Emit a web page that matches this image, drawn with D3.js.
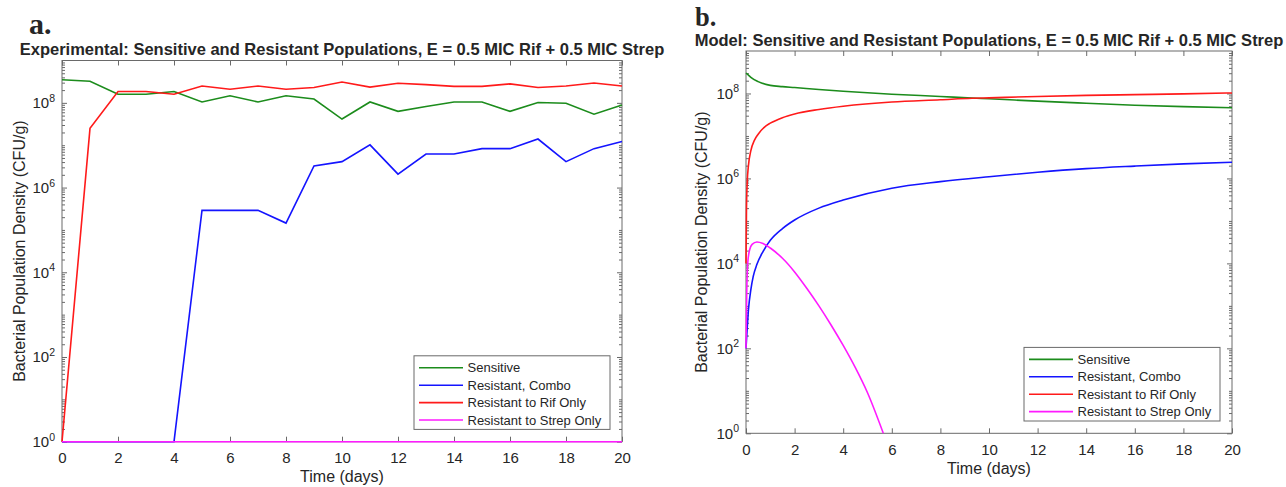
<!DOCTYPE html>
<html lang="en">
<head>
    <meta charset="UTF-8">
    <title>Sensitive and Resistant Populations</title>
    <script src="https://d3js.org/d3.v7.min.js"></script>
    <style>
        body { margin: 0; background: #fff; }
        text { font-family: "Liberation Sans", Arial, sans-serif; fill: #262626; }
    </style>
</head>
<body>
    <svg id="chart"></svg>

    <script>
        const width = 1286, height = 487;

        const seriesNames = ["Sensitive", "Resistant, Combo", "Resistant to Rif Only", "Resistant to Strep Only"];
        const seriesColors = ["#1c8c1c", "#1414ff", "#ff1a1a", "#ff1aff"];
        const dayTicks = [0, 2, 4, 6, 8, 10, 12, 14, 16, 18, 20];
        const decadeTicks = [1, 1e2, 1e4, 1e6, 1e8];

        // experimental (panel a), one value per day
        const days = [0, 1, 2, 3, 4, 5, 6, 7, 8, 9, 10, 11, 12, 13, 14, 15, 16, 17, 18, 19, 20];
        const expSensitive = [3.5e8, 3.25e8, 1.6e8, 1.6e8, 1.85e8, 1.05e8, 1.47e8, 1.05e8, 1.47e8, 1.23e8, 4.15e7,
            1.05e8, 6.3e7, 8.2e7, 1.05e8, 1.05e8, 6.3e7, 1.02e8, 9.8e7, 5.4e7, 8.9e7];
        const expCombo = [1, 1, 1, 1, 1, 2.9e5, 2.9e5, 2.9e5, 1.45e5, 3.25e6, 4.1e6,
            1.02e7, 2.08e6, 6.2e6, 6.2e6, 8.3e6, 8.3e6, 1.4e7, 4.1e6, 8.3e6, 1.23e7];
        const expRif = [1, 2.5e7, 1.85e8, 1.85e8, 1.6e8, 2.5e8, 2.1e8, 2.5e8, 2.1e8, 2.3e8, 3.1e8,
            2.35e8, 2.9e8, 2.7e8, 2.45e8, 2.45e8, 2.8e8, 2.3e8, 2.5e8, 2.95e8, 2.5e8];
        const expStrep = [1, 1, 1, 1, 1, 1, 1, 1, 1, 1, 1, 1, 1, 1, 1, 1, 1, 1, 1, 1, 1];

        // model (panel b)
        const modSensitiveT = [0, 0.1, 0.2, 0.5, 1, 1.5, 2, 3, 4, 6, 8, 9.3, 10, 12, 14, 16, 18, 20];
        const modSensitive = [3e8, 2.7e8, 2.4e8, 1.9e8, 1.55e8, 1.45e8, 1.38e8, 1.24e8, 1.13e8, 9.6e7, 8.5e7,
            7.8e7, 7.5e7, 6.6e7, 5.9e7, 5.3e7, 4.9e7, 4.6e7];
        const modComboT = [0, 0.05, 0.1, 0.2, 0.3, 0.45, 0.7, 1, 1.5, 2, 3, 4, 6, 8, 10, 12, 14, 16, 18, 20];
        const modCombo = [100, 300, 800, 2.4e3, 5e3, 9.5e3, 1.9e4, 3.5e4, 6.6e4, 1.05e5, 2e5, 3.1e5, 5.9e5, 8.4e5,
            1.1e6, 1.4e6, 1.7e6, 1.95e6, 2.2e6, 2.4e6];
        const modRifT = [0, 0.02, 0.05, 0.1, 0.2, 0.35, 0.5, 0.75, 1, 1.5, 2, 3, 4, 6, 8, 9.3, 10, 12, 14, 16, 18, 20];
        const modRif = [1e4, 2e5, 8e5, 2e6, 4.5e6, 8e6, 1.1e7, 1.6e7, 2e7, 2.7e7, 3.3e7, 4.2e7, 5e7, 6.3e7, 7.1e7,
            7.7e7, 7.9e7, 8.5e7, 9e7, 9.4e7, 9.8e7, 1.03e8];
        const modStrepT = [0, 0.03, 0.07, 0.15, 0.25, 0.45, 0.7, 1, 1.5, 2, 2.5, 3, 3.5, 4, 4.5, 5, 5.65];
        const modStrep = [100, 2e3, 1e4, 2.1e4, 2.8e4, 3.2e4, 2.95e4, 2.3e4, 1.32e4, 6.3e3, 2.6e3, 1e3, 355, 117, 35, 9, 1];

        const svg = d3.select("#chart")
            .attr("width", width)
            .attr("height", height);

        const panelA = {
            left: 62, right: 622, top: 60.5, bottom: 441.7,
            title: "Experimental: Sensitive and Resistant Populations, E = 0.5 MIC Rif + 0.5 MIC Strep",
            titleY: 55, letter: "a.", letterX: 29, letterY: 34, letterSize: 30,
            ylabelX: 24.5, xlabelY: 482, curve: d3.curveLinear
        };
        const panelB = {
            left: 746, right: 1232, top: 51, bottom: 433.3,
            title: "Model: Sensitive and Resistant Populations, E = 0.5 MIC Rif + 0.5 MIC Strep",
            titleY: 45.5, letter: "b.", letterX: 695, letterY: 25.5, letterSize: 26.5,
            ylabelX: 706.5, xlabelY: 473.5, curve: d3.curveMonotoneX
        };

        function pairs(t, v) {
            return t.map((d, i) => ({ t: d, v: v[i] }));
        }

        function drawPanel(p, series) {
            const x = d3.scaleLinear().domain([0, 20]).range([p.left, p.right]);
            const y = d3.scaleLog().domain([1, 1e9]).range([p.bottom, p.top]);
            const g = svg.append("g");

            const minor = [];
            for (let e = 0; e < 9; e++) {
                if (e % 2 === 1) minor.push(Math.pow(10, e));
                for (let m = 2; m <= 9; m++) minor.push(m * Math.pow(10, e));
            }

            // ticks point inward, mirrored on every side of the box
            g.append("g").attr("transform", `translate(${p.left},0)`)
                .call(d3.axisLeft(y).tickValues(minor).tickSize(-3).tickFormat(""));
            g.append("g").attr("transform", `translate(${p.right},0)`)
                .call(d3.axisRight(y).tickValues(minor).tickSize(-3).tickFormat(""));
            g.append("g").attr("transform", `translate(${p.right},0)`)
                .call(d3.axisRight(y).tickValues(decadeTicks).tickSize(-5).tickFormat(""));
            g.append("g").attr("transform", `translate(0,${p.top})`)
                .call(d3.axisTop(x).tickValues(dayTicks).tickSize(-5).tickFormat(""));

            const yAxis = g.append("g").attr("transform", `translate(${p.left},0)`)
                .call(d3.axisLeft(y).tickValues(decadeTicks).tickSizeInner(-5).tickSizeOuter(0).tickPadding(7));
            yAxis.selectAll(".tick text").each(function (d) {
                const t = d3.select(this);
                t.text("10");
                t.append("tspan").attr("dy", "-0.6em").style("font-size", "10.5px").text(Math.round(Math.log10(d)));
            });

            g.append("g").attr("transform", `translate(0,${p.bottom})`)
                .call(d3.axisBottom(x).tickValues(dayTicks).tickSizeInner(-5).tickSizeOuter(0).tickPadding(11));

            g.selectAll(".domain").remove();
            g.selectAll(".tick line").attr("stroke", "#6a6a6a");
            g.selectAll(".tick text").style("font-size", "15px").attr("fill", "#262626");

            g.append("rect")
                .attr("x", p.left).attr("y", p.top)
                .attr("width", p.right - p.left).attr("height", p.bottom - p.top)
                .attr("fill", "none").attr("stroke", "#6a6a6a");

            const line = d3.line()
                .x(d => x(d.t))
                .y(d => y(d.v))
                .curve(p.curve);

            series.forEach((s, i) => {
                g.append("path")
                    .datum(s)
                    .attr("fill", "none")
                    .attr("stroke", seriesColors[i])
                    .attr("stroke-width", 1.6)
                    .attr("d", line);
            });

            // legend, lower right corner
            const lw = 196, lh = 73.6;
            const lx = p.right - 12 - lw, ly = p.bottom - 12.3 - lh;
            const legend = g.append("g").attr("transform", `translate(${lx},${ly})`);
            legend.append("rect")
                .attr("width", lw).attr("height", lh)
                .attr("fill", "#fff").attr("stroke", "#6a6a6a");
            seriesNames.forEach((name, i) => {
                const cy = 12 + i * 17.4;
                legend.append("line")
                    .attr("x1", 5).attr("x2", 49).attr("y1", cy).attr("y2", cy)
                    .attr("stroke", seriesColors[i]).attr("stroke-width", 1.6);
                legend.append("text")
                    .attr("x", 53.5).attr("y", cy).attr("dy", "0.35em")
                    .style("font-size", "13px")
                    .text(name);
            });

            g.append("text")
                .attr("x", (p.left + p.right) / 2).attr("y", p.titleY)
                .attr("text-anchor", "middle")
                .style("font-size", "16.5px").style("font-weight", "bold")
                .attr("fill", "#000")
                .text(p.title);

            g.append("text")
                .attr("x", (p.left + p.right) / 2).attr("y", p.xlabelY)
                .attr("text-anchor", "middle")
                .style("font-size", "16px")
                .text("Time (days)");

            g.append("text")
                .attr("transform", `translate(${p.ylabelX},${(p.top + p.bottom) / 2}) rotate(-90)`)
                .attr("text-anchor", "middle")
                .style("font-size", "16px")
                .text("Bacterial Population Density (CFU/g)");

            svg.append("text")
                .attr("x", p.letterX).attr("y", p.letterY)
                .style("font-family", "'Liberation Serif', 'Times New Roman', serif")
                .style("font-size", p.letterSize + "px").style("font-weight", "bold")
                .attr("fill", "#000")
                .text(p.letter);
        }

        drawPanel(panelA, [
            pairs(days, expSensitive),
            pairs(days, expCombo),
            pairs(days, expRif),
            pairs(days, expStrep)
        ]);

        drawPanel(panelB, [
            pairs(modSensitiveT, modSensitive),
            pairs(modComboT, modCombo),
            pairs(modRifT, modRif),
            pairs(modStrepT, modStrep)
        ]);
    </script>
</body>
</html>
